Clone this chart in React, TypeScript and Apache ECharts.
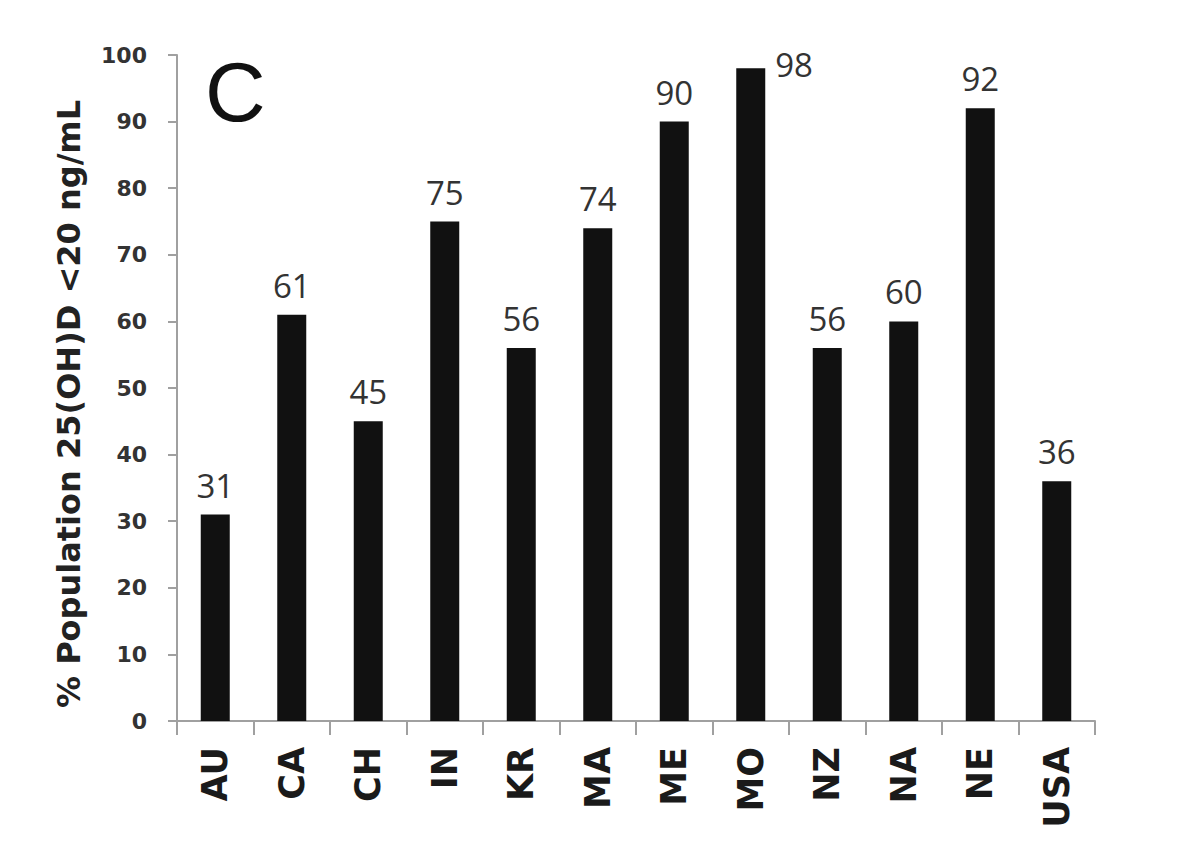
import React, { useEffect, useRef } from "react";
import * as echarts from "echarts";

const categories = ["AU", "CA", "CH", "IN", "KR", "MA", "ME", "MO", "NZ", "NA", "NE", "USA"];
const values = [31, 61, 45, 75, 56, 74, 90, 98, 56, 60, 92, 36];
const yTicks = [0, 10, 20, 30, 40, 50, 60, 70, 80, 90, 100];
const yAxisName = "% Population 25(OH)D <20 ng/mL";
const panelLetter = "C";
const sideLabelCategory = "MO";

export default function App() {
  const ref = useRef<HTMLDivElement>(null);
  useEffect(() => {
    if (!ref.current) return;
    const chart = echarts.init(ref.current, null, { renderer: "svg" });
    const data = values.map((v, i) =>
      categories[i] === sideLabelCategory
        ? {
            value: v,
            label: { position: [39, -20], align: "left", verticalAlign: "top" },
          }
        : { value: v }
    );
    chart.setOption({
      animation: false,
      backgroundColor: "#ffffff",
      grid: { left: 169, right: 97, top: 47, bottom: 122, containLabel: false },
      graphic: [
        {
          type: "text",
          left: 197,
          top: 42,
          style: {
            text: panelLetter,
            fontSize: 84,
            fontFamily: "Liberation Sans, Arial, sans-serif",
            fill: "#111",
          },
        },
      ],
      xAxis: {
        type: "category",
        data: categories,
        boundaryGap: true,
        axisLine: { show: true, lineStyle: { color: "#a0a0a0", width: 2 } },
        axisTick: { show: true, length: 14, inside: false, lineStyle: { color: "#a0a0a0", width: 2 } },
        axisLabel: {
          rotate: 90,
          margin: 26,
          fontSize: 35,
          fontWeight: "bold",
          fontFamily: "DejaVu Sans, sans-serif",
          color: "#1a1a1a",
        },
      },
      yAxis: {
        type: "value",
        min: yTicks[0],
        max: yTicks[yTicks.length - 1],
        interval: 10,
        name: yAxisName,
        nameLocation: "middle",
        nameGap: 92,
        nameTextStyle: {
          fontSize: 32,
          fontWeight: "bold",
          fontFamily: "DejaVu Sans, sans-serif",
          color: "#222",
          padding: [0, 32, 0, 0],
        },
        splitLine: { show: false },
        axisLine: { show: true, lineStyle: { color: "#a0a0a0", width: 2 } },
        axisTick: { show: true, length: 9, lineStyle: { color: "#a0a0a0", width: 2 } },
        axisLabel: {
          margin: 30,
          fontSize: 22,
          fontWeight: "bold",
          fontFamily: "DejaVu Sans, sans-serif",
          color: "#333",
        },
      },
      series: [
        {
          type: "bar",
          data,
          barWidth: 29,
          itemStyle: { color: "#111111" },
          label: {
            show: true,
            position: "top",
            distance: 13,
            fontSize: 33,
            fontFamily: "Open Sans, sans-serif",
            color: "#333",
          },
        },
      ],
    });
    return () => chart.dispose();
  }, []);
  return <div ref={ref} style={{ width: 1184, height: 835 }} />;
}
